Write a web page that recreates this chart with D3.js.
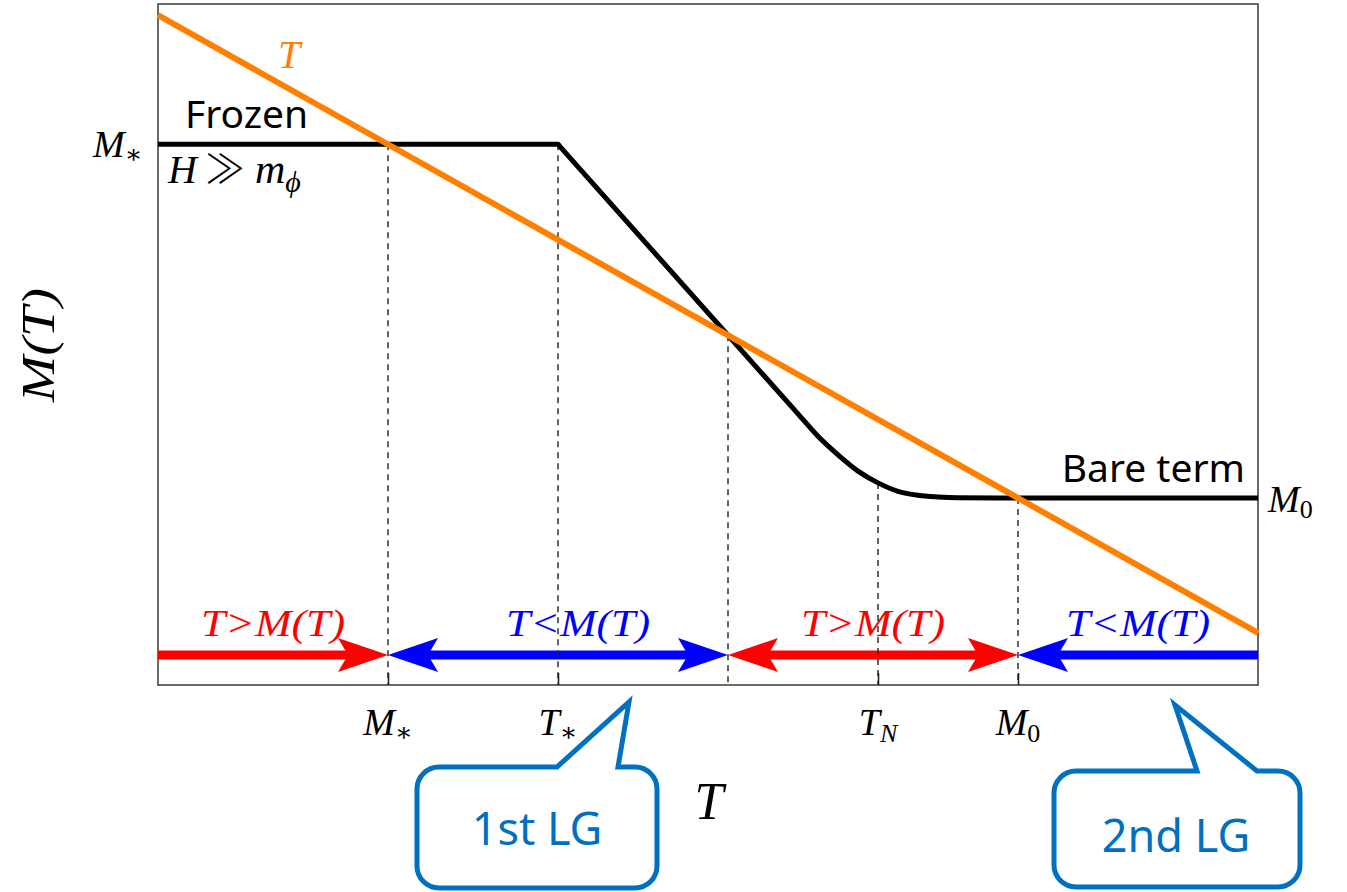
<!DOCTYPE html>
<html>
<head>
<meta charset="utf-8">
<script src="https://cdn.jsdelivr.net/npm/d3@7"></script>
<style>
  html, body { margin: 0; padding: 0; background: #fff; }
  svg { display: block; }
  .math { font-family: "Liberation Serif", "DejaVu Serif", serif; font-style: italic; }
  .sans { font-family: "Noto Sans", "Open Sans", sans-serif; }
</style>
</head>
<body>
<svg id="chart" width="1347" height="892"></svg>
<script>
// ---- data -------------------------------------------------------------
// Temperature runs from high (left) to low (right).
const domainT = [11, 0];
const domainM = [-0.93, 11.2];

// Reference line M = T
const diagT = [11, 0];

// Effective mass M(T): frozen plateau, linear drop, relaxes to the bare term
const curveT = [11, 7.0, 6.98, 5.3, 4.6, 4.4, 4.2, 4.0, 3.8, 3.6, 3.4, 3.2, 3.0, 2.6, 0];
const curveM = [8.7, 8.7, 8.66, 5.3, 3.9, 3.5, 3.17, 2.88, 2.67, 2.52, 2.45, 2.42, 2.405, 2.4, 2.4];

// Dashed guides from the curve down to the axis
const guideT = [8.7, 7.0, 5.3, 3.8, 2.4];
const guideM = [8.7, 8.7, 5.3, 2.67, 2.4];

// Axis ticks (letter + subscript)
const tickT = [8.7, 7.0, 3.8, 2.4];
const tickMain = ["M", "T", "T", "M"];
const tickSub = ["\u2217", "\u2217", "N", "0"];

// Flow arrows along the bottom
const arrowFrom = [11, 8.7, 5.3, 0];
const arrowTo = [8.7, 5.3, 2.4, 2.4];
const arrowColor = ["#ff0000", "#0000ff", "#ff0000", "#0000ff"];
const arrowHeadStart = [false, true, true, false];
const arrowHeadEnd = [true, true, true, true];
const arrowText = ["T>M(T)", "T<M(T)", "T>M(T)", "T<M(T)"];
const arrowTextShift = [0, 20, 0, 0];

// Levels marked on the vertical sides
const Mstar = 8.7, M0 = 2.4;

// ---- layout -----------------------------------------------------------
const W = 1347, H = 892;
const plot = { left: 158, right: 1258, top: 4, bottom: 685 };
const arrowY = 655;
const blue = "#0070C0";

const svg = d3.select("#chart");
const x = d3.scaleLinear().domain(domainT).range([plot.left, plot.right]);
const y = d3.scaleLinear().domain(domainM).range([plot.bottom, plot.top]);

// frame
svg.append("rect")
  .attr("x", plot.left).attr("y", plot.top)
  .attr("width", plot.right - plot.left).attr("height", plot.bottom - plot.top)
  .attr("fill", "#fff").attr("stroke", "#3a3a3a").attr("stroke-width", 1.5);

// inner ticks on the bottom axis
const axis = d3.axisBottom(x).tickValues(tickT).tickSizeInner(-12).tickSizeOuter(0).tickFormat("");
const gAxis = svg.append("g").attr("transform", `translate(0,${plot.bottom})`).call(axis);
gAxis.select(".domain").remove();
gAxis.selectAll(".tick line").attr("stroke", "#222").attr("stroke-width", 1.6);

// flow arrows
const gArrows = svg.append("g");
const headLen = 50, headNotch = 40, headHalf = 17;
function head(tipX, dir) {
  return `M${tipX},${arrowY} L${tipX - dir * headLen},${arrowY - headHalf} L${tipX - dir * headNotch},${arrowY} L${tipX - dir * headLen},${arrowY + headHalf} Z`;
}
arrowFrom.forEach((t0, i) => {
  const x0 = x(t0), x1 = x(arrowTo[i]);
  const dir = Math.sign(x1 - x0);
  const s0 = arrowHeadStart[i] ? x0 + dir * headNotch : x0;
  const s1 = arrowHeadEnd[i] ? x1 - dir * headNotch : x1;
  gArrows.append("line")
    .attr("x1", s0).attr("x2", s1).attr("y1", arrowY).attr("y2", arrowY)
    .attr("stroke", arrowColor[i]).attr("stroke-width", 9);
  if (arrowHeadEnd[i]) gArrows.append("path").attr("d", head(x1, dir)).attr("fill", arrowColor[i]);
  if (arrowHeadStart[i]) gArrows.append("path").attr("d", head(x0, -dir)).attr("fill", arrowColor[i]);
  gArrows.append("text").attr("class", "math")
    .attr("x", (x0 + x1) / 2 + arrowTextShift[i]).attr("y", 636)
    .attr("text-anchor", "middle").attr("font-size", 37)
    .attr("fill", arrowColor[i])
    .attr("textLength", 144).attr("lengthAdjust", "spacingAndGlyphs")
    .text(arrowText[i]);
});

// dashed guides
svg.append("g").selectAll("line").data(guideT).join("line")
  .attr("x1", d => x(d)).attr("x2", d => x(d))
  .attr("y1", (d, i) => y(guideM[i])).attr("y2", plot.bottom)
  .attr("stroke", "#222").attr("stroke-width", 1.4)
  .attr("stroke-dasharray", "6,5");

// M(T) curve
const pts = curveT.map((t, i) => [t, curveM[i]]);
svg.append("path")
  .datum(pts)
  .attr("d", d3.line().x(d => x(d[0])).y(d => y(d[1])).curve(d3.curveMonotoneX))
  .attr("fill", "none").attr("stroke", "#000").attr("stroke-width", 5)
  .attr("stroke-linejoin", "round");

// T line
svg.append("path")
  .datum(diagT)
  .attr("d", d3.line().x(d => x(d)).y(d => y(d)))
  .attr("fill", "none").attr("stroke", "#ff8000").attr("stroke-width", 6);

// tick labels
const gTickLab = svg.append("g");
tickT.forEach((t, i) => {
  const txt = gTickLab.append("text").attr("class", "math")
    .attr("x", x(t)).attr("y", 735).attr("text-anchor", "middle")
    .attr("font-size", 38).attr("fill", "#000");
  txt.append("tspan").text(tickMain[i]);
  const isStar = tickSub[i] === "\u2217";
  txt.append("tspan")
    .attr("dy", isStar ? 6 : 7)
    .attr("font-size", 26)
    .attr("font-style", tickSub[i] === "N" ? "italic" : "normal")
    .text(tickSub[i]);
});

// side level labels
function levelLabel(px, py, sub) {
  const t = svg.append("text").attr("class", "math")
    .attr("x", px).attr("y", py).attr("font-size", 38).attr("fill", "#000");
  t.append("tspan").text("M");
  t.append("tspan").attr("dy", 6).attr("font-size", 26).attr("font-style", "normal").text(sub);
}
levelLabel(93, y(Mstar) + 13, "\u2217");
levelLabel(1268, y(M0) + 14, "0");

// curve annotations
svg.append("text").attr("class", "sans")
  .attr("x", 185).attr("y", 128).attr("font-size", 39).attr("fill", "#000").text("Frozen");

const hm = svg.append("text").attr("class", "math")
  .attr("x", 168).attr("y", 183).attr("font-size", 40).attr("fill", "#000");
hm.append("tspan").text("H");
hm.append("tspan").attr("font-style", "normal").attr("font-weight", 300)
  .attr("font-family", "'Noto Sans CJK JP', 'DejaVu Sans', sans-serif")
  .attr("font-size", 40).attr("dx", 8).text("\u226B");
hm.append("tspan").attr("dx", 10).attr("font-size", 42).text("m");
hm.append("tspan").attr("dy", 9).attr("font-size", 30).text("\u03D5");

svg.append("text").attr("class", "sans")
  .attr("x", 1245).attr("y", 482).attr("text-anchor", "end")
  .attr("font-size", 39).attr("fill", "#000").text("Bare term");

svg.append("text").attr("class", "math")
  .attr("x", 278).attr("y", 68).attr("font-size", 40).attr("fill", "#ff8000").text("T");

// axis titles
svg.append("text").attr("class", "math")
  .attr("transform", "translate(54,345) rotate(-90)")
  .attr("text-anchor", "middle").attr("font-size", 46)
  .attr("textLength", 114).attr("lengthAdjust", "spacingAndGlyphs")
  .text("M(T)");

svg.append("text").attr("class", "math")
  .attr("x", 709).attr("y", 819).attr("text-anchor", "middle")
  .attr("font-size", 52).text("T");

// speech-bubble callouts
const callouts = [
  { L: 417, R: 657, T: 767, B: 888, b1: 557, b2: 618, tip: [629, 702], text: "1st LG", tx: 537, ty: 845 },
  { L: 1054, R: 1300, T: 771, B: 887, b1: 1197, b2: 1257, tip: [1175, 705], text: "2nd LG", tx: 1176, ty: 852 }
];
function bubblePath(c) {
  const r = 22;
  return `M${c.L + r},${c.T} L${c.b1},${c.T} L${c.tip[0]},${c.tip[1]} L${c.b2},${c.T} L${c.R - r},${c.T}` +
    ` A${r},${r} 0 0 1 ${c.R},${c.T + r} L${c.R},${c.B - r} A${r},${r} 0 0 1 ${c.R - r},${c.B}` +
    ` L${c.L + r},${c.B} A${r},${r} 0 0 1 ${c.L},${c.B - r} L${c.L},${c.T + r} A${r},${r} 0 0 1 ${c.L + r},${c.T} Z`;
}
const gCall = svg.append("g");
callouts.forEach(c => {
  gCall.append("path").attr("d", bubblePath(c))
    .attr("fill", "#fff").attr("stroke", blue).attr("stroke-width", 5)
    .attr("stroke-linejoin", "miter");
  gCall.append("text").attr("class", "sans")
    .attr("x", c.tx).attr("y", c.ty).attr("text-anchor", "middle")
    .attr("font-size", 45).attr("fill", blue).text(c.text);
});
</script>
</body>
</html>
